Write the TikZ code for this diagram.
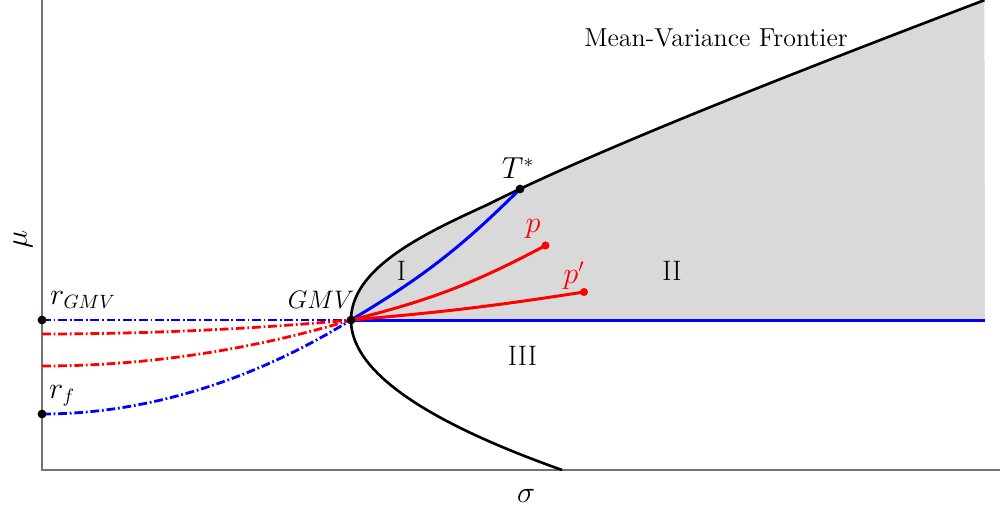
\documentclass[tikz,border=0pt]{standalone}
\begin{document}
\begin{tikzpicture}[x=0.02cm,y=0.02cm,
  spine/.style={draw=black!55, line width=0.8pt},
  frontier/.style={draw=black, line width=1.5pt},
  bluel/.style={draw=blue, line width=1.7pt},
  redl/.style={draw=red, line width=1.7pt},
  dd/.style={line width=1.6pt, dash pattern=on 5pt off 1.6pt on 1pt off 1.6pt},
  bdot/.style={circle, fill=black, inner sep=0pt, minimum size=5pt},
  rdot/.style={circle, fill=red, inner sep=0pt, minimum size=4.6pt},
  lab/.style={font=\fontsize{16}{19}\selectfont, inner sep=0pt},
  gmvlab/.style={font=\fontsize{13.5}{16}\selectfont, inner sep=0pt},
  titlelab/.style={font=\fontsize{14.8}{18}\selectfont, inner sep=0pt},
  mulab/.style={font=\fontsize{19}{23}\selectfont, inner sep=0pt}
]
\useasboundingbox (0,0) rectangle (1000,512);

% key points
\coordinate (gmv) at (351,192);
\coordinate (tstar) at (520,323);
\coordinate (p) at (545.5,266.5);
\coordinate (pp) at (584,220);
\coordinate (rgmv) at (42,192);
\coordinate (rone) at (42,178);
\coordinate (rtwo) at (42,146);
\coordinate (rf) at (42,98);
\coordinate (hend) at (985,192);
\coordinate (origin) at (42,42);
\coordinate (ytop) at (42,512);
\coordinate (xend) at (1000,42);

% shaded region
\fill[black!15] plot[domain=0:3.2, samples=140]
  ({351+100*((min(1,\x/1.15))^2*(sqrt(9.61+7.76*\x*\x)-3.1)+(1-(min(1,\x/1.15))^2)*0.938*\x*\x)},{192+100*\x})
  -- (hend) -- cycle;

% axes
\draw[spine] (ytop) -- (origin) -- (xend);

% frontier
\draw[frontier, line join=round]
  plot[domain=1.5:0, samples=60] ({351+93.8*\x*\x},{192-100*\x})
  -- plot[domain=0:3.2, samples=140]
  ({351+100*((min(1,\x/1.15))^2*(sqrt(9.61+7.76*\x*\x)-3.1)+(1-(min(1,\x/1.15))^2)*0.938*\x*\x)},{192+100*\x});

% solid lines
\draw[bluel] (gmv) -- (hend);
\draw[bluel] (gmv) to[bend right=7] (tstar);
\draw[redl] (gmv) to[bend right=7] (p);
\draw[redl] (gmv) to[bend right=2] (pp);

% dash-dot curves
\draw[blue, dd] (rgmv) -- (gmv);
\draw[red, dd] (rone) parabola[bend at start] (gmv);
\draw[red, dd] (rtwo) parabola[bend at start] (gmv);
\draw[blue, dd] (rf) parabola[bend at start] (gmv);

% dots
\node[bdot] (gmvdot) at (gmv) {};
\node[bdot] (tdot) at (tstar) {};
\node[bdot] (rgmvdot) at (rgmv) {};
\node[bdot] (rfdot) at (rf) {};
\node[rdot] (pdot) at (p) {};
\node[rdot] (ppdot) at (pp) {};

% labels
\node[titlelab] (title) at (716,474) {Mean-Variance Frontier};
\node[lab] (lrgmv) at (83,212) {$r_{GMV}$};
\node[lab] (lrf) at (62,116) {$r_f$};
\node[gmvlab] (lgmv) at (321,212) {$GMV$};
\node[lab] (lt) at (518,344) {$T^*$};
\node[lab, text=red] (lp) at (533,283) {$p$};
\node[lab, text=red] (lpp) at (574,236) {$p'$};
\node[lab] (lI) at (401.5,241) {I};
\node[lab] (lII) at (672,241) {II};
\node[lab] (lIII) at (522.5,156) {III};
\node[lab] (lsig) at (526,16) {$\sigma$};
\node[mulab, rotate=90] (lmu) at (23,272) {$\mu$};
\end{tikzpicture}
\end{document}
